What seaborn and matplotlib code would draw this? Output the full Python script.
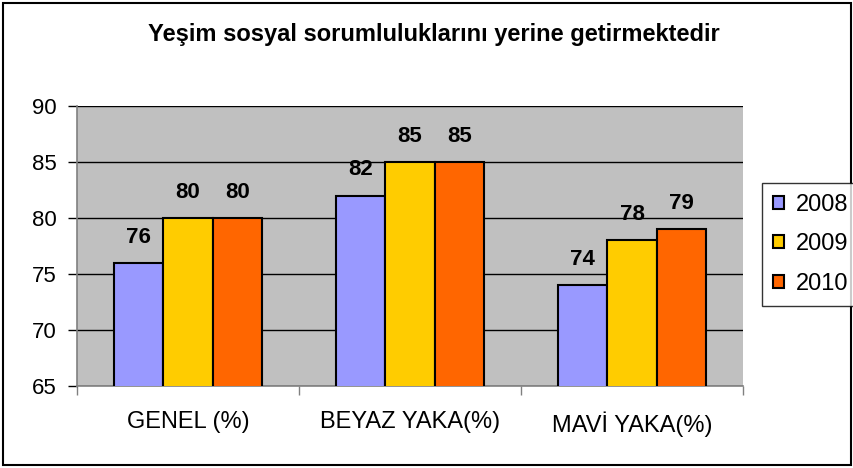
import pandas as pd
import matplotlib.pyplot as plt
import seaborn as sns
from matplotlib.patches import Rectangle
from matplotlib.ticker import FixedLocator

categories = ["GENEL (%)", "BEYAZ YAKA(%)", "MAVİ YAKA(%)"]
years = ["2008", "2009", "2010"]
values_2008 = [76, 82, 74]
values_2009 = [80, 85, 78]
values_2010 = [80, 85, 79]
colors = ["#9999FF", "#FFCC00", "#FF6600"]

df = pd.DataFrame({
    "category": categories * 3,
    "year": [y for y in years for _ in categories],
    "value": values_2008 + values_2009 + values_2010,
})

sns.set_style("white")
plt.rcParams["font.family"] = ["Liberation Sans", "DejaVu Sans"]
plt.rcParams["text.color"] = "black"
plt.rcParams["xtick.color"] = "black"
plt.rcParams["ytick.color"] = "black"

fig = plt.figure(figsize=(8.54, 4.68), dpi=100)
ax = fig.add_axes([77 / 854, 1 - 386 / 468, 666 / 854, 280 / 468])
ax.set_facecolor("#C0C0C0")

sns.barplot(data=df, x="category", y="value", hue="year", palette=colors,
            width=0.667, edgecolor="black", linewidth=1.5, saturation=1,
            ax=ax, zorder=3)

ax.set_ylim(65, 90)
ax.set_xlim(-0.5, 2.5)
ax.set_yticks([65, 70, 75, 80, 85, 90])
ax.grid(axis="y", color="black", linewidth=1, zorder=1)
ax.set_axisbelow(True)
ax.set_xlabel("")
ax.set_ylabel("")

for c in ax.containers:
    ax.bar_label(c, fmt="%d", padding=11, fontsize=16, fontweight="bold")

ax.tick_params(axis="y", direction="out", length=6.5, width=1, color="black",
               labelsize=16, pad=8, left=True)
ax.tick_params(axis="x", which="major", length=0, labelsize=17, pad=18)
ax.xaxis.set_minor_locator(FixedLocator([-0.5, 0.5, 1.5, 2.5]))
ax.tick_params(axis="x", which="minor", direction="out", length=6.5, width=1,
               color="#808080", bottom=True)

for s in ["top", "right"]:
    ax.spines[s].set_visible(False)
for s in ["left", "bottom"]:
    ax.spines[s].set_color("#808080")
    ax.spines[s].set_linewidth(1.2)

ax.legend_.remove()
handles, labels = ax.get_legend_handles_labels()
leg = fig.legend(handles, labels, loc="upper left",
                 bbox_to_anchor=(762 / 854, 1 - 183 / 468),
                 frameon=True, fancybox=False, edgecolor="black",
                 fontsize=17, handlelength=0.47, handleheight=0.47,
                 handletextpad=0.5, labelspacing=0.75, borderpad=0.45,
                 borderaxespad=0)
leg.get_frame().set_linewidth(1)

fig.text(434 / 854, 1 - 41 / 468, "Yeşim sosyal sorumluluklarını yerine getirmektedir",
         ha="center", va="baseline", fontsize=17, fontweight="bold")

fig.patches.append(Rectangle((3 / 854, 3 / 468), 848 / 854, 462 / 468,
                             transform=fig.transFigure, fill=False,
                             edgecolor="black", linewidth=1.5))

fig.savefig("out.png", dpi=100)
